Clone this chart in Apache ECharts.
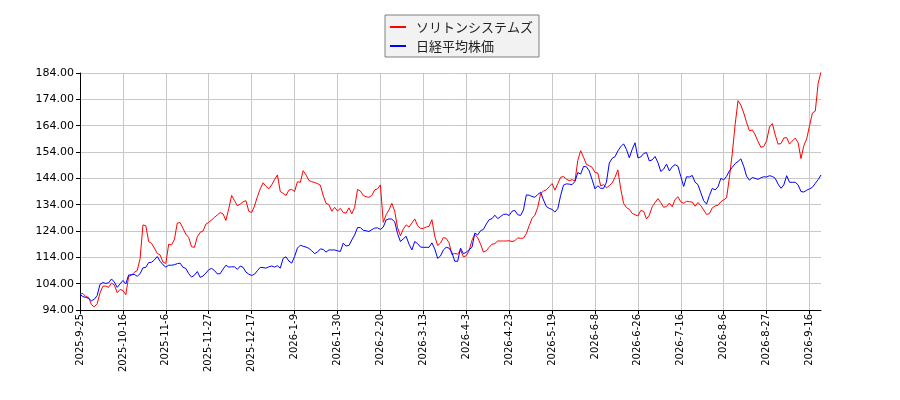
<!DOCTYPE html>
<html>
<head>
<meta charset="utf-8">
<script src="https://cdn.jsdelivr.net/npm/echarts@6/dist/echarts.min.js"></script>
<style>
  html, body { margin: 0; padding: 0; background: #fff; }
  #chart { width: 900px; height: 400px; }
</style>
</head>
<body>
<div id="chart"></div>
<script>
// labelled dates, one every 15 points
const tickDates = ['2025-9-25', '2025-10-16', '2025-11-6', '2025-11-27', '2025-12-17', '2026-1-9',
  '2026-1-30', '2026-2-20', '2026-3-13', '2026-4-3', '2026-4-23', '2026-5-19', '2026-6-8',
  '2026-6-26', '2026-7-16', '2026-8-6', '2026-8-27', '2026-9-16'];
const extraDates = ['2026-9-17', '2026-9-18', '2026-9-21', '2026-9-22'];

const yTicks = [94, 104, 114, 124, 134, 144, 154, 164, 174, 184];

const soliton = [
  100.0, 100.3, 99.1, 98.8, 96.0, 95.2, 96.4, 100.5, 103.0, 103.1, 102.6, 104.2, 103.5, 100.6, 101.8,
  101.4, 99.8, 106.7, 107.2, 108.3, 109.0, 113.5, 126.3, 126.0, 120.0, 119.3, 117.5, 115.5, 114.9, 112.2,
  111.7, 119.0, 118.7, 120.8, 127.0, 127.2, 125.0, 122.8, 121.5, 118.0, 117.8, 121.8, 123.5, 124.0, 126.6,
  127.3, 128.2, 129.2, 130.1, 131.0, 130.5, 128.0, 132.5, 137.5, 135.5, 133.6, 134.2, 135.1, 135.5, 131.5,
  131.0, 133.5, 137.0, 140.0, 142.3, 141.0, 140.0, 141.5, 143.5, 145.3, 139.0, 138.3, 137.5, 139.5, 139.8,
  139.0, 142.7, 142.5, 146.9, 145.3, 143.2, 142.7, 142.4, 142.0, 141.4, 137.5, 134.5, 134.0, 131.5, 133.0,
  131.6, 132.6, 131.0, 130.8, 132.8, 130.5, 133.0, 139.8, 139.2, 137.5, 137.0, 136.8, 137.5, 139.6, 140.0,
  141.5, 127.3, 130.2, 132.0, 134.5, 131.5, 125.2, 122.2, 124.7, 126.3, 125.5, 127.0, 128.6, 126.0, 125.0,
  125.0, 125.5, 125.8, 128.3, 122.0, 118.5, 119.4, 121.5, 121.2, 119.5, 115.0, 115.5, 115.2, 116.8, 114.2,
  114.6, 116.5, 120.5, 122.7, 121.5, 119.0, 116.0, 116.5, 117.8, 119.0, 119.2, 120.2, 120.2, 120.2, 120.2,
  120.3, 120.0, 120.3, 121.4, 121.2, 121.3, 123.0, 126.0, 128.8, 130.0, 133.0, 138.2, 139.2, 139.6, 140.8,
  142.0, 139.5, 142.0, 144.4, 144.7, 143.7, 143.1, 143.5, 143.0, 150.8, 154.5, 152.0, 149.3, 148.8, 148.2,
  146.2, 146.0, 141.1, 141.6, 140.4, 141.2, 142.2, 144.4, 147.2, 140.0, 134.5, 132.9, 132.2, 130.7, 130.2,
  129.7, 131.8, 131.5, 128.6, 130.0, 133.2, 134.8, 136.3, 134.8, 133.0, 133.3, 134.6, 133.2, 136.0, 137.0,
  135.1, 134.5, 135.3, 135.1, 135.0, 133.4, 134.8, 133.6, 132.0, 130.3, 130.6, 132.8, 133.5, 133.8, 135.1,
  135.8, 136.6, 144.5, 153.5, 164.5, 173.5, 171.8, 168.8, 165.2, 162.0, 162.4, 160.5, 158.0, 155.8, 156.1,
  158.3, 163.5, 164.8, 160.5, 157.0, 157.2, 159.3, 159.5, 157.0, 158.2, 159.3, 157.5, 151.5, 156.4, 159.0,
  164.0, 168.8, 169.5, 180.0, 184.5
];

const nikkei = [
  100.0, 99.1, 98.8, 98.4, 97.5, 98.1, 99.5, 103.8, 104.4, 104.1, 104.3, 105.8, 104.6, 102.6, 103.9,
  105.2, 103.9, 107.3, 107.4, 107.5, 106.8, 107.8, 110.0, 110.2, 112.0, 112.1, 113.0, 114.3, 112.5, 111.2,
  110.3, 111.0, 111.0, 111.2, 111.6, 111.8, 110.2, 109.8, 107.8, 106.5, 107.2, 108.6, 106.4, 106.9, 108.0,
  109.3, 109.8, 109.0, 107.7, 107.8, 109.5, 111.0, 110.3, 110.4, 110.4, 109.4, 110.7, 110.2, 108.4, 107.6,
  107.1, 107.6, 108.9, 110.2, 110.1, 109.9, 110.4, 110.7, 110.3, 110.8, 109.9, 113.6, 114.2, 112.6, 111.8,
  114.3, 117.5, 118.6, 118.2, 117.9, 117.4, 116.5, 115.4, 116.0, 117.2, 117.0, 116.0, 116.8, 116.8, 116.8,
  116.5, 116.2, 119.4, 118.3, 118.5, 120.6, 122.5, 125.3, 125.3, 124.3, 124.1, 123.8, 124.5, 125.1, 125.2,
  124.6, 125.5, 128.2, 128.6, 128.5, 127.5, 123.0, 120.0, 121.0, 122.0, 119.0, 116.8, 120.0, 119.2, 117.9,
  117.8, 117.8, 117.8, 119.5, 117.2, 113.6, 114.5, 116.8, 117.8, 117.5, 115.8, 112.5, 112.5, 117.5, 115.4,
  115.9, 116.9, 117.8, 123.2, 122.5, 124.1, 124.6, 126.6, 128.3, 128.7, 130.0, 128.7, 129.5, 130.3, 130.4,
  129.9, 131.5, 131.8, 130.2, 129.9, 132.0, 137.7, 137.6, 137.1, 136.8, 137.9, 138.7, 135.8, 133.3, 132.6,
  132.2, 131.2, 132.5, 137.5, 141.4, 141.9, 141.8, 141.6, 142.8, 146.2, 145.6, 148.5, 148.4, 146.8, 143.5,
  140.0, 141.2, 140.2, 140.2, 142.5, 149.8, 151.6, 152.2, 154.4, 156.0, 157.1, 155.0, 151.8, 155.0, 157.5,
  151.8, 152.1, 153.4, 153.8, 150.6, 151.0, 152.3, 150.0, 146.6, 147.5, 149.4, 146.8, 148.4, 149.2, 148.6,
  144.7, 140.9, 144.6, 144.5, 145.1, 142.5, 141.6, 138.5, 135.5, 134.2, 137.5, 140.2, 139.6, 140.8, 144.0,
  143.4, 144.8, 146.8, 148.2, 149.6, 150.4, 151.4, 148.5, 144.8, 143.3, 144.3, 144.0, 143.6, 144.2, 144.6,
  144.5, 145.0, 144.7, 144.0, 141.8, 140.2, 141.5, 145.0, 142.5, 142.5, 142.5, 141.5, 139.0, 138.8, 139.5,
  140.0, 140.6, 142.1, 143.5, 145.3
];

// category names: the labelled dates sit every 15 points, the days between only fill the axis
function buildDates() {
  const out = [];
  for (let k = 0; k < tickDates.length; k++) {
    out.push(tickDates[k]);
    if (k === tickDates.length - 1) break;
    const a = new Date(tickDates[k] + 'T00:00:00Z');
    const b = new Date(tickDates[k + 1] + 'T00:00:00Z');
    const gap = Math.round((b - a) / 86400000);
    for (let j = 1; j < 15; j++) {
      const d = new Date(a.getTime() + Math.round(j * gap / 15) * 86400000);
      out.push(d.getUTCFullYear() + '-' + (d.getUTCMonth() + 1) + '-' + d.getUTCDate() + '_' + j);
    }
  }
  return out.concat(extraDates);
}
const dates = buildDates();

const chart = echarts.init(document.getElementById('chart'));
chart.setOption({
  animation: false,
  backgroundColor: '#fff',
  legend: {
    left: 385,
    top: 15,
    orient: 'vertical',
    data: ['ソリトンシステムズ', '日経平均株価'],
    icon: 'rect',
    itemWidth: 16,
    itemHeight: 2,
    itemGap: 5,
    padding: [5, 6, 4, 5],
    backgroundColor: '#f2f2f2',
    borderColor: '#808080',
    borderWidth: 1,
    borderRadius: 0,
    textStyle: {
      fontFamily: 'Noto Sans CJK JP',
      fontSize: 13,
      lineHeight: 14,
      color: '#222',
      padding: [0, 0, 0, 5]
    }
  },
  grid: { left: 80, right: 79, top: 73, bottom: 90 },
  xAxis: {
    type: 'category',
    boundaryGap: false,
    data: dates,
    axisLine: { lineStyle: { color: '#000', width: 1 } },
    axisTick: { interval: 14, length: 4, lineStyle: { color: '#000' } },
    axisLabel: {
      interval: 14,
      rotate: 90,
      margin: 4,
      fontFamily: 'DejaVu Sans',
      fontSize: 10,
      color: '#000'
    },
    splitLine: { show: true, interval: 14, lineStyle: { color: '#c8c8c8', width: 1 } }
  },
  yAxis: {
    type: 'value',
    min: 94,
    max: 184,
    axisLine: { show: true, lineStyle: { color: '#000', width: 1 } },
    axisTick: { show: true, length: 4, customValues: yTicks, lineStyle: { color: '#000' } },
    axisLabel: {
      customValues: yTicks,
      formatter: v => v.toFixed(2),
      fontFamily: 'DejaVu Sans',
      fontSize: 11,
      color: '#000',
      margin: 6
    },
    splitLine: { show: true, lineStyle: { color: '#c8c8c8', width: 1 } }
  },
  series: [
    {
      name: 'ソリトンシステムズ',
      type: 'line',
      data: soliton,
      showSymbol: false,
      lineStyle: { color: '#ff0000', width: 1 },
      itemStyle: { color: '#ff0000' }
    },
    {
      name: '日経平均株価',
      type: 'line',
      data: nikkei,
      showSymbol: false,
      lineStyle: { color: '#0000ff', width: 1 },
      itemStyle: { color: '#0000ff' }
    }
  ]
});
</script>
</body>
</html>
